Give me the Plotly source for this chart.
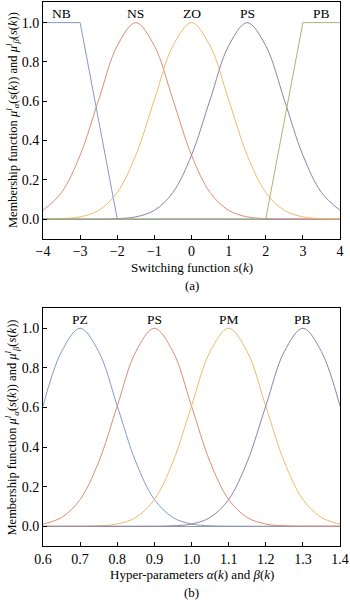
import plotly.graph_objects as go

# ---- data (a) ----
s_grid = [-4, -3.5, -3, -2.5, -2, -1.5, -1, -0.5, 0, 0.5, 1, 1.5, 2, 2.5, 3, 3.5, 4]
NB_x = [-4, -3, -2, 4]
NB_y = [1, 1, 0, 0]
NS_y = [0.044, 0.135, 0.325, 0.607, 0.882, 1.0, 0.882, 0.607, 0.325, 0.135, 0.044, 0.011, 0.002, 0.0, 0.0, 0.0, 0.0]
ZO_y = [0.0003, 0.002, 0.011, 0.044, 0.135, 0.325, 0.607, 0.882, 1.0, 0.882, 0.607, 0.325, 0.135, 0.044, 0.011, 0.002, 0.0003]
PS_y = [0.0, 0.0, 0.0, 0.0, 0.002, 0.011, 0.044, 0.135, 0.325, 0.607, 0.882, 1.0, 0.882, 0.607, 0.325, 0.135, 0.044]
PB_x = [-4, 2, 3, 4]
PB_y = [0, 0, 1, 1]
labels_a = ["NB", "NS", "ZO", "PS", "PB"]
label_a_x = [-3.5, -1.5, 0, 1.5, 3.5]

# ---- data (b) ----
h_grid = [0.6, 0.65, 0.7, 0.75, 0.8, 0.85, 0.9, 0.95, 1.0, 1.05, 1.1, 1.15, 1.2, 1.25, 1.3, 1.35, 1.4]
PZ_y = [0.607, 0.882, 1.0, 0.882, 0.607, 0.325, 0.135, 0.044, 0.011, 0.002, 0.0003, 0.0, 0.0, 0.0, 0.0, 0.0, 0.0]
PSb_y = [0.011, 0.044, 0.135, 0.325, 0.607, 0.882, 1.0, 0.882, 0.607, 0.325, 0.135, 0.044, 0.011, 0.002, 0.0003, 0.0, 0.0]
PM_y = [0.0, 0.0, 0.0003, 0.002, 0.011, 0.044, 0.135, 0.325, 0.607, 0.882, 1.0, 0.882, 0.607, 0.325, 0.135, 0.044, 0.011]
PBb_y = [0.0, 0.0, 0.0, 0.0, 0.0, 0.0, 0.0003, 0.002, 0.011, 0.044, 0.135, 0.325, 0.607, 0.882, 1.0, 0.882, 0.607]
labels_b = ["PZ", "PS", "PM", "PB"]
label_b_x = [0.7, 0.9, 1.1, 1.3]

y_ticks = [0.0, 0.2, 0.4, 0.6, 0.8, 1.0]
x_ticks_a = [-4, -3, -2, -1, 0, 1, 2, 3, 4]
x_ticks_b = [0.6, 0.7, 0.8, 0.9, 1.0, 1.1, 1.2, 1.3, 1.4]

C_BLUE = "#8499c8"
C_RED = "#dc8c72"
C_ORANGE = "#eebb6a"
C_PURPLE = "#8c82ac"
C_GREEN = "#a4b86e"

FONT = "Liberation Serif"
fig = go.Figure()

lw = 1
# (a)
fig.add_trace(go.Scatter(x=NB_x, y=NB_y, mode="lines", line=dict(color=C_BLUE, width=lw), xaxis="x", yaxis="y"))
fig.add_trace(go.Scatter(x=s_grid, y=NS_y, mode="lines", line=dict(color=C_RED, width=lw, shape="spline"), xaxis="x", yaxis="y"))
fig.add_trace(go.Scatter(x=s_grid, y=ZO_y, mode="lines", line=dict(color=C_ORANGE, width=lw, shape="spline"), xaxis="x", yaxis="y"))
fig.add_trace(go.Scatter(x=s_grid, y=PS_y, mode="lines", line=dict(color=C_PURPLE, width=lw, shape="spline"), xaxis="x", yaxis="y"))
fig.add_trace(go.Scatter(x=PB_x, y=PB_y, mode="lines", line=dict(color=C_GREEN, width=lw), xaxis="x", yaxis="y"))
# (b)
fig.add_trace(go.Scatter(x=h_grid, y=PZ_y, mode="lines", line=dict(color=C_BLUE, width=lw, shape="spline"), xaxis="x2", yaxis="y2"))
fig.add_trace(go.Scatter(x=h_grid, y=PSb_y, mode="lines", line=dict(color=C_RED, width=lw, shape="spline"), xaxis="x2", yaxis="y2"))
fig.add_trace(go.Scatter(x=h_grid, y=PM_y, mode="lines", line=dict(color=C_ORANGE, width=lw, shape="spline"), xaxis="x2", yaxis="y2"))
fig.add_trace(go.Scatter(x=h_grid, y=PBb_y, mode="lines", line=dict(color=C_PURPLE, width=lw, shape="spline"), xaxis="x2", yaxis="y2"))

for lab, lx in zip(labels_a, label_a_x):
    fig.add_annotation(text=lab, x=lx, y=1.045, xref="x", yref="y", showarrow=False,
                       xanchor="center", yanchor="middle", font=dict(family=FONT, size=13.5, color="black"))
for lab, lx in zip(labels_b, label_b_x):
    fig.add_annotation(text=lab, x=lx, y=1.045, xref="x2", yref="y2", showarrow=False,
                       xanchor="center", yanchor="middle", font=dict(family=FONT, size=13.5, color="black"))

ax_common = dict(showline=True, mirror=True, linecolor="black", linewidth=1, ticks="inside", ticklen=4,
                 tickcolor="black", showgrid=False, ticklabeloverflow="allow",
                 tickfont=dict(family=FONT, size=14, color="black"))

ytitle = ("Membership function <i>μ</i><sup><i>l</i></sup><sub><i>α</i></sub>(<i>s</i>(<i>k</i>)) and "
          "<i>μ</i><sup><i>l</i></sup><sub><i>β</i></sub>(<i>s</i>(<i>k</i>))")

fig.update_layout(
    width=350, height=600, showlegend=False,
    margin=dict(l=43, r=7, t=1, b=54),
    paper_bgcolor="white", plot_bgcolor="white",
    font=dict(family=FONT, size=13, color="black"),
    xaxis=dict(domain=[0, 1], anchor="y", range=[-4, 4], tickvals=x_ticks_a,
               ticktext=[("−" + str(abs(v))) if v < 0 else str(v) for v in x_ticks_a],
               zeroline=False, **ax_common),
    yaxis=dict(domain=[0.565, 1], anchor="x", range=[-0.1, 1.105], tickvals=y_ticks,
               ticktext=[f"{v:.1f}" for v in y_ticks], zeroline=True, zerolinecolor="#999999", zerolinewidth=1,
               **ax_common),
    xaxis2=dict(domain=[0, 1], anchor="y2", range=[0.6, 1.4], tickvals=x_ticks_b,
                ticktext=[f"{v:.1f}" for v in x_ticks_b], zeroline=False, **ax_common),
    yaxis2=dict(domain=[0, 0.4367], anchor="x2", range=[-0.1, 1.1], tickvals=y_ticks,
                ticktext=[f"{v:.1f}" for v in y_ticks], zeroline=True, zerolinecolor="#999999", zerolinewidth=1,
                **ax_common),
)

ann = [
    dict(text="Switching function <i>s</i>(<i>k</i>)", x=0.5, y=267),
    dict(text="(a)", x=0.5, y=285),
    dict(text="Hyper-parameters <i>α</i>(<i>k</i>) and <i>β</i>(<i>k</i>)", x=0.5, y=575),
    dict(text="(b)", x=0.5, y=593),
]
plot_h = 600 - 1 - 54
for a in ann:
    fig.add_annotation(text=a["text"], xref="paper", yref="paper", x=a["x"], y=(546 - a["y"]) / plot_h,
                       showarrow=False, xanchor="center", yanchor="middle",
                       font=dict(family=FONT, size=13, color="black"))
for yc in [119, 427]:
    fig.add_annotation(text=ytitle, xref="paper", yref="paper", x=(12 - 43) / 300, y=(546 - yc) / plot_h,
                       textangle=-90, showarrow=False, xanchor="center", yanchor="middle",
                       font=dict(family=FONT, size=12.5, color="black"))

fig.write_html("out.html")
